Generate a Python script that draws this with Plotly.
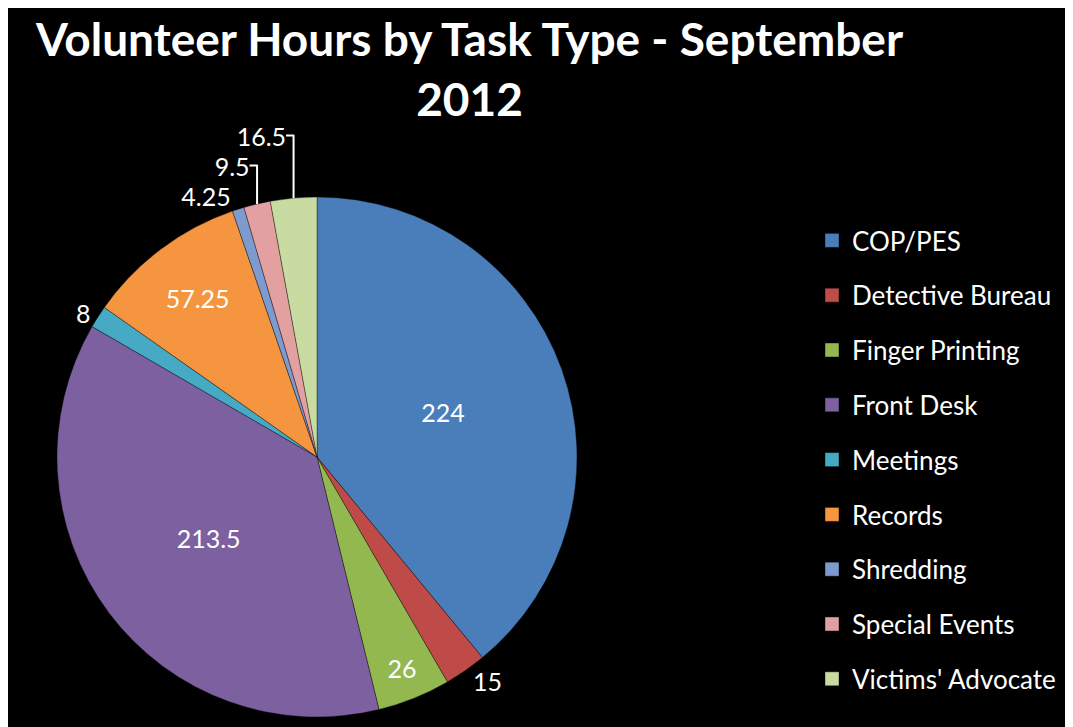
import plotly.graph_objects as go

categories = ["COP/PES", "Detective Bureau", "Finger Printing", "Front Desk", "Meetings",
              "Records", "Shredding", "Special Events", "Victims' Advocate"]
hours = [224, 15, 26, 213.5, 8, 57.25, 4.25, 9.5, 16.5]
colors = ["#4A7EBB", "#BE4B48", "#93B84F", "#7D60A0", "#46AAC5",
          "#F59540", "#7E9BD0", "#E3A0A0", "#C8DBA1"]
label_pos = ["inside", "outside", "inside", "inside", "outside",
             "inside", "outside", "outside", "outside"]
title_lines = ["Volunteer Hours by Task Type - September", "2012"]

W, H = 1073, 727
FONT = "Lato"

fig = go.Figure()

fig.add_trace(go.Pie(
    labels=categories,
    values=hours,
    sort=False,
    direction="clockwise",
    rotation=0,
    marker=dict(colors=colors, line=dict(color="rgba(0,0,0,0.35)", width=1)),
    textinfo="value",
    textposition=label_pos,
    insidetextorientation="horizontal",
    textfont=dict(family=FONT, size=25, color="white"),
    outsidetextfont=dict(family=FONT, size=25, color="white"),
    insidetextfont=dict(family=FONT, size=25, color="white"),
    domain=dict(x=[49 / W, 569 / W], y=[18 / H, 538 / H]),
    showlegend=False,
    hoverinfo="label+value",
))

# legend entries (one group each so spacing can be controlled)
for cat, col in zip(categories, colors):
    fig.add_trace(go.Scatter(
        x=[None], y=[None], mode="markers", name=cat,
        marker=dict(symbol="square", size=14, color=col,
                    line=dict(color="rgba(0,0,0,0.4)", width=1)),
        legendgroup=cat, showlegend=True,
    ))

fig.update_layout(
    width=W, height=H,
    margin=dict(l=0, r=0, t=0, b=0),
    paper_bgcolor="white",
    plot_bgcolor="black",
    xaxis=dict(visible=False),
    yaxis=dict(visible=False),
    annotations=[dict(text="<br>".join(title_lines), x=461 / W, xanchor="center",
                      xref="paper", y=1 - 1 / H, yanchor="top", yref="paper",
                      showarrow=False, align="center",
                      font=dict(family=FONT, size=46, color="white", weight="bold"))],
    legend=dict(x=804 / W, xanchor="left", y=1 - 209 / H, yanchor="top",
                font=dict(family=FONT, size=26, color="white"),
                bgcolor="rgba(0,0,0,0)", tracegroupgap=18,
                itemclick=False, itemdoubleclick=False),
    shapes=[dict(type="rect", xref="paper", yref="paper",
                 x0=7 / W, x1=1 - 3 / W, y0=0, y1=1 - 9 / H,
                 fillcolor="black", line=dict(width=0), layer="below")],
)

fig.write_html("out.html")
